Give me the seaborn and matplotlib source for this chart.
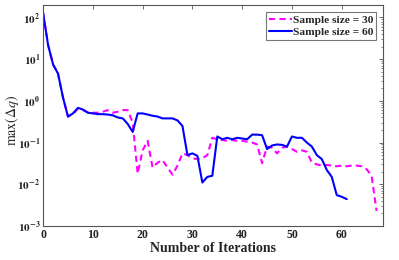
import numpy as np
import pandas as pd
import seaborn as sns
import matplotlib
matplotlib.use("Agg")
import matplotlib.pyplot as plt

# values (log scale)
size30 = [130, 22, 7.5, 4.5, 1.2, 0.42, 0.48, 0.65, 0.6, 0.53,
          0.52, 0.52, 0.55, 0.6, 0.52, 0.55, 0.6, 0.6, 0.3, 0.018,
          0.065, 0.11, 0.025, 0.033, 0.038, 0.025, 0.017, 0.028, 0.055, 0.05,
          0.042, 0.04, 0.042, 0.05, 0.13, 0.12, 0.115, 0.11, 0.115, 0.11,
          0.11, 0.105, 0.1, 0.09, 0.032, 0.08, 0.075, 0.055, 0.075, 0.08,
          0.07, 0.06, 0.065, 0.06, 0.033, 0.03, 0.028, 0.029, 0.028, 0.027,
          0.028, 0.027, 0.028, 0.028, 0.027, 0.023, 0.016, 0.0023]
size60 = [130, 22, 7.5, 4.5, 1.2, 0.42, 0.5, 0.68, 0.62, 0.52,
          0.5, 0.48, 0.48, 0.47, 0.45, 0.4, 0.38, 0.28, 0.18, 0.5,
          0.5, 0.47, 0.44, 0.42, 0.38, 0.38, 0.38, 0.34, 0.25, 0.05,
          0.055, 0.048, 0.011, 0.015, 0.016, 0.14, 0.12, 0.13, 0.12, 0.13,
          0.125, 0.12, 0.155, 0.155, 0.15, 0.07, 0.085, 0.09, 0.088, 0.08,
          0.14, 0.13, 0.13, 0.1, 0.08, 0.05, 0.04, 0.022, 0.015, 0.0055,
          0.005, 0.0044]
xticks = [0, 10, 20, 30, 40, 50, 60]
yticks = [1e-3, 1e-2, 1e-1, 1e0, 1e1, 1e2]
ytick_labels = [r"$\mathbf{10^{-3}}$", r"$\mathbf{10^{-2}}$", r"$\mathbf{10^{-1}}$",
                r"$\mathbf{10^{0}}$", r"$\mathbf{10^{1}}$", r"$\mathbf{10^{2}}$"]

sns.set_style("white")
plt.rcParams["font.family"] = ["Liberation Serif", "DejaVu Serif"]
plt.rcParams["mathtext.fontset"] = "stix"

df30 = pd.DataFrame({"it": np.arange(len(size30)), "val": size30})
df60 = pd.DataFrame({"it": np.arange(len(size60)), "val": size60})

fig = plt.figure(figsize=(3.99, 2.6), dpi=100)
ax = fig.add_axes([0.108, 0.131, 0.852, 0.85])

sns.lineplot(data=df30, x="it", y="val", ax=ax, color="#ff00ff", lw=1.5,
             linestyle=(0, (3, 2)), label="Sample size = 30")
sns.lineplot(data=df60, x="it", y="val", ax=ax, color="#0000ff", lw=1.5,
             label="Sample size = 60")

ax.set_yscale("log")
ax.set_xlim(0, 68.3)
ax.set_ylim(1e-3, 200)
ax.set_xticks(xticks)
ax.set_xticklabels([str(t) for t in xticks], fontweight="bold", fontsize=8.5)
ax.set_yticks(yticks)
ax.set_yticklabels(ytick_labels, fontsize=8)
ax.yaxis.set_minor_locator(matplotlib.ticker.LogLocator(base=10, subs=np.arange(2, 10)))
ax.yaxis.set_minor_formatter(matplotlib.ticker.NullFormatter())

ax.tick_params(which="both", direction="in", top=True, right=True, colors="#555555",
               labelcolor="#222222", pad=2)
ax.tick_params(which="major", length=3, width=0.6)
ax.tick_params(which="minor", length=1.5, width=0.5)
for s in ax.spines.values():
    s.set_color("#555555")
    s.set_linewidth(0.8)

ax.set_xlabel("Number of Iterations", fontweight="bold", fontsize=10, labelpad=1)
ax.set_ylabel(r"$\max(\Delta q)$", fontsize=10)
ax.yaxis.set_label_coords(-0.065, 0.48)

leg = ax.legend(loc="upper right", fancybox=False, edgecolor="#555555",
                prop={"weight": "bold", "size": 8.2}, handlelength=2.0,
                handletextpad=0.1, borderpad=0.25, labelspacing=0.2,
                borderaxespad=0.6)
leg.get_frame().set_linewidth(0.8)

fig.savefig("out.png", dpi=100)
